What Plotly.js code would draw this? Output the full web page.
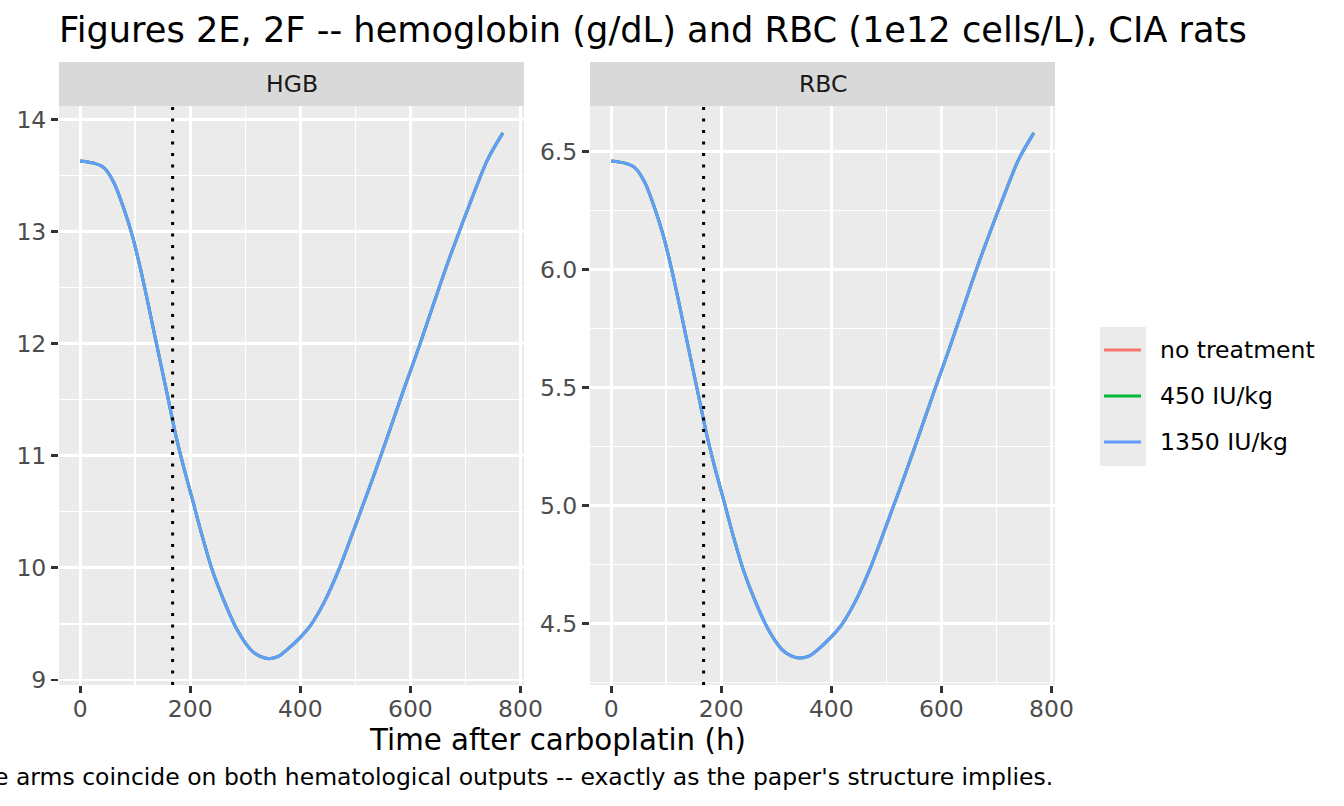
<!DOCTYPE html>
<html>
<head>
<meta charset="utf-8">
<script src="https://cdn.plot.ly/plotly-3.0.1.min.js"></script>
<style>
  html, body { margin: 0; padding: 0; background: white; }
  #plot { width: 1344px; height: 806px; }
</style>
</head>
<body>
<div id="plot"></div>
<script>
// time after carboplatin (h)
var timeH = [0, 25, 43, 61, 79, 95, 110, 122, 134, 146, 159, 173, 188, 204, 222, 240, 261, 285, 310, 327, 343, 360,
             376, 400, 419, 443, 473, 504, 534, 564, 588, 604, 619, 637, 655, 673, 695, 716, 740, 768];
// hemoglobin g/dL
var hgb = [13.63, 13.61, 13.57, 13.44, 13.21, 12.96, 12.66, 12.39, 12.11, 11.83, 11.53, 11.20, 10.90, 10.61, 10.28, 9.98, 9.71, 9.45, 9.27, 9.21, 9.19, 9.21,
           9.27, 9.38, 9.49, 9.69, 10.02, 10.43, 10.83, 11.25, 11.59, 11.81, 12.02, 12.28, 12.54, 12.79, 13.08, 13.35, 13.64, 13.88];
// RBC 1e12 cells/L
var rbc = [6.461, 6.452, 6.433, 6.371, 6.262, 6.143, 6.001, 5.873, 5.740, 5.607, 5.464, 5.308, 5.165, 5.028, 4.871, 4.729, 4.600, 4.477, 4.391, 4.363, 4.354, 4.363,
           4.391, 4.444, 4.496, 4.591, 4.748, 4.942, 5.132, 5.331, 5.493, 5.597, 5.697, 5.820, 5.944, 6.062, 6.200, 6.328, 6.466, 6.580];

var armNames = ["no treatment", "450 IU/kg", "1350 IU/kg"];
var armColors = ["#F8766D", "#00BA38", "#619CFF"];
var panelNames = ["HGB", "RBC"];
var doseTime = [168];
var xTicks = [0, 200, 400, 600, 800];

var W = 1344, H = 806;
var FONT = "DejaVu Sans";
function px(x) { return x / W; }
function py(y) { return (H - y) / H; }

var data = [];
for (let i = 0; i < armNames.length; i++) {
  // all three arms share the same trajectory
  data.push({x: timeH, y: hgb, xaxis: "x", yaxis: "y", mode: "lines", line: {color: armColors[i], width: 3, shape: "spline", smoothing: 0.8},
             name: armNames[i], showlegend: false, hoverinfo: "skip"});
  data.push({x: timeH, y: rbc, xaxis: "x2", yaxis: "y2", mode: "lines", line: {color: armColors[i], width: 3, shape: "spline", smoothing: 0.8},
             name: armNames[i], showlegend: false, hoverinfo: "skip"});
}

function xax(dom, anchor) {
  return {
    domain: dom, anchor: anchor, range: [-38.4, 806.4],
    tickvals: xTicks, ticktext: xTicks.map(String),
    showgrid: true, gridcolor: "white", gridwidth: 2.8,
    minor: {dtick: 100, tick0: 0, showgrid: true, gridcolor: "white", gridwidth: 1.4},
    zeroline: false, showline: false,
    ticks: "outside", ticklen: 7, tickwidth: 2.8, tickcolor: "#333333",
    ticklabelstandoff: -4,
    tickfont: {family: FONT, size: 23.5, color: "#4D4D4D"}
  };
}
function yax(range, dtick, minorD, anchor) {
  return {
    domain: [py(685), py(106)], anchor: anchor, range: range,
    dtick: dtick, tick0: 0,
    showgrid: true, gridcolor: "white", gridwidth: 2.8,
    minor: {dtick: minorD, tick0: 0, showgrid: true, gridcolor: "white", gridwidth: 1.4},
    zeroline: false, showline: false,
    ticks: "outside", ticklen: 7, tickwidth: 2.8, tickcolor: "#333333",
    tickfont: {family: FONT, size: 23.5, color: "#4D4D4D"},
    tickformat: dtick < 1 ? ".1f" : "d"
  };
}

var shapes = [];
var annotations = [];
var panelLeft = [59, 590], panelRight = [524, 1055];
for (let p = 0; p < 2; p++) {
  shapes.push({type: "rect", xref: "paper", yref: "paper", x0: px(panelLeft[p]), x1: px(panelRight[p]),
               y0: py(106), y1: py(62), fillcolor: "#D9D9D9", line: {width: 0}, layer: "below"});
  annotations.push({xref: "paper", yref: "paper", x: px((panelLeft[p] + panelRight[p]) / 2), y: py(84),
                    xanchor: "center", yanchor: "middle", showarrow: false, text: panelNames[p],
                    font: {family: FONT, size: 23.5, color: "#1A1A1A"}});
  var xr = p == 0 ? "x" : "x2", yr = p == 0 ? "y domain" : "y2 domain";
  shapes.push({type: "line", xref: xr, yref: yr, x0: doseTime[0], x1: doseTime[0], y0: 0, y1: 1,
               line: {color: "black", width: 3, dash: "3px,8.5px"}});
}

// legend drawn by hand, ggplot style
shapes.push({type: "rect", xref: "paper", yref: "paper", x0: px(1100), x1: px(1146), y0: py(466), y1: py(327),
             fillcolor: "#EBEBEB", line: {width: 0}});
for (let i = 0; i < armNames.length; i++) {
  var yy = 350 + i * 46;
  shapes.push({type: "line", xref: "paper", yref: "paper", x0: px(1104), x1: px(1141), y0: py(yy), y1: py(yy),
               line: {color: armColors[i], width: 2.8}});
  annotations.push({xref: "paper", yref: "paper", x: px(1158), y: py(yy), xanchor: "left", yanchor: "middle",
                    showarrow: false, text: armNames[i], font: {family: FONT, size: 23.5, color: "black"}});
}

annotations.push({xref: "paper", yref: "paper", x: px(557), y: py(740), xanchor: "center", yanchor: "middle",
                  showarrow: false, text: "Time after carboplatin (h)", font: {family: FONT, size: 29.3, color: "black"}});
annotations.push({xref: "paper", yref: "paper", x: px(1055), y: py(777), xanchor: "right", yanchor: "middle",
                  showarrow: false, text: "e arms coincide on both hematological outputs -- exactly as the paper's structure implies.",
                  font: {family: FONT, size: 23.5, color: "black"}});

var layout = {
  width: W, height: H,
  margin: {l: 0, r: 0, t: 0, b: 0},
  paper_bgcolor: "white", plot_bgcolor: "#EBEBEB",
  showlegend: false,
  title: {text: "Figures 2E, 2F -- hemoglobin (g/dL) and RBC (1e12 cells/L), CIA rats",
          x: px(59), xanchor: "left", y: py(30), yanchor: "middle",
          font: {family: FONT, size: 35.2, color: "black"}},
  xaxis: xax([px(59), px(524)], "y"),
  yaxis: yax([8.955, 14.12], 1, 0.5, "x"),
  xaxis2: xax([px(590), px(1055)], "y2"),
  yaxis2: yax([4.24, 6.694], 0.5, 0.25, "x2"),
  shapes: shapes,
  annotations: annotations
};

Plotly.newPlot("plot", data, layout, {staticPlot: true});
</script>
</body>
</html>
